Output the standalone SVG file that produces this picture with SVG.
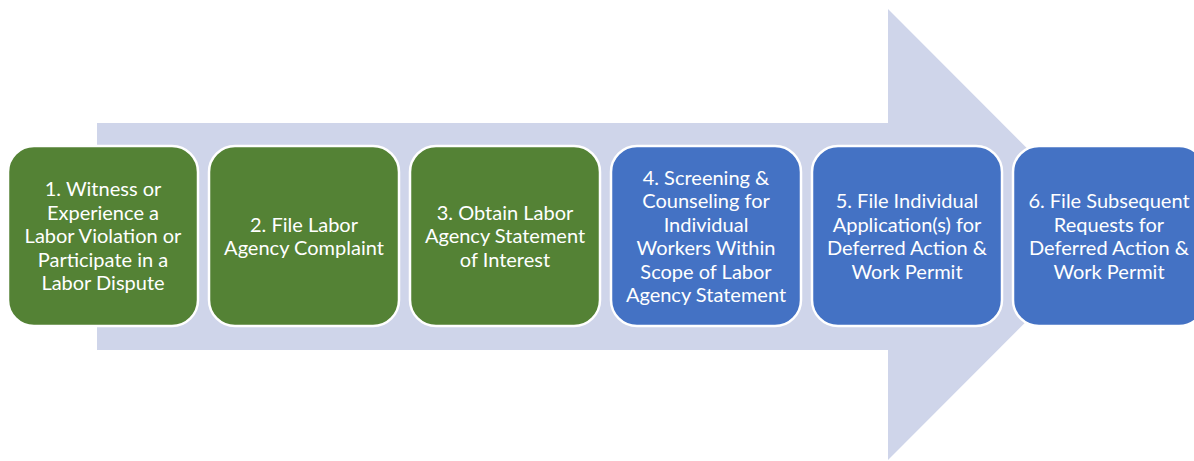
<svg xmlns="http://www.w3.org/2000/svg" width="1194" height="461" viewBox="0 0 1194 461">
<style>
.g{fill:#548235;stroke:#fff;stroke-width:2.5}
.b{fill:#4472C4;stroke:#fff;stroke-width:2.5}
.t{fill:#fff;font-family:Lato,"Liberation Sans",sans-serif;font-size:20px;text-anchor:middle}
</style>
<rect width="1194" height="461" fill="#fff"/>
<g id="arrow"><polygon points="97,123 888,123 888,9 1113,234.5 888,460 888,350 97,350" fill="#CFD5EA"/></g>
<g id="connectors"></g>
<g id="n1"><rect class="g" x="8" y="146" width="190" height="180" rx="26"/>
<text class="t"><tspan x="103" y="196">1. Witness or</tspan><tspan x="103" y="219.5">Experience a</tspan><tspan x="103" y="243">Labor Violation or</tspan><tspan x="103" y="266.5">Participate in a</tspan><tspan x="103" y="290">Labor Dispute</tspan></text></g>
<g id="n2"><rect class="g" x="209" y="146" width="190" height="180" rx="26"/>
<text class="t"><tspan x="304" y="231.5">2. File Labor</tspan><tspan x="304" y="255">Agency Complaint</tspan></text></g>
<g id="n3"><rect class="g" x="410" y="146" width="190" height="180" rx="26"/>
<text class="t"><tspan x="505" y="219.5">3. Obtain Labor</tspan><tspan x="505" y="243">Agency Statement</tspan><tspan x="505" y="266.5">of Interest</tspan></text></g>
<g id="n4"><rect class="b" x="611" y="146" width="190" height="180" rx="26"/>
<text class="t"><tspan x="706" y="184.5">4. Screening &amp;</tspan><tspan x="706" y="208">Counseling for</tspan><tspan x="706" y="231.5">Individual</tspan><tspan x="706" y="255">Workers Within</tspan><tspan x="706" y="278.5">Scope of Labor</tspan><tspan x="706" y="302">Agency Statement</tspan></text></g>
<g id="n5"><rect class="b" x="812" y="146" width="190" height="180" rx="26"/>
<text class="t"><tspan x="907" y="208">5. File Individual</tspan><tspan x="907" y="231.5">Application(s) for</tspan><tspan x="907" y="255">Deferred Action &amp;</tspan><tspan x="907" y="278.5">Work Permit</tspan></text></g>
<g id="n6"><rect class="b" x="1013" y="146" width="192" height="180" rx="26"/>
<text class="t"><tspan x="1109" y="208">6. File Subsequent</tspan><tspan x="1109" y="231.5">Requests for</tspan><tspan x="1109" y="255">Deferred Action &amp;</tspan><tspan x="1109" y="278.5">Work Permit</tspan></text></g>
</svg>
